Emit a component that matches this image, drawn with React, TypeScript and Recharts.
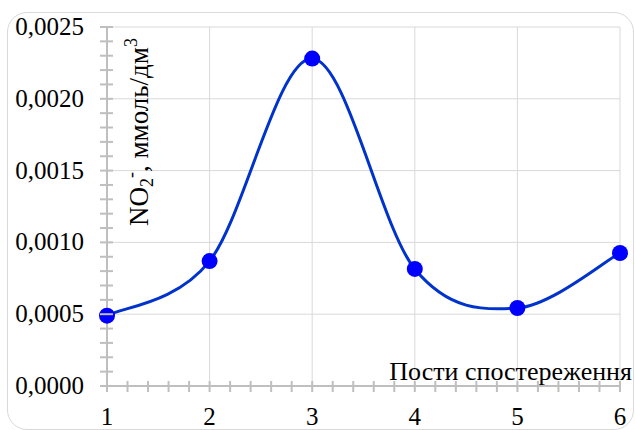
import React from 'react';
import { LineChart, Line, XAxis, YAxis, CartesianGrid } from 'recharts';

const posts = [1, 2, 3, 4, 5, 6];
const no2 = [0.00049, 0.00087, 0.00228, 0.000815, 0.000543, 0.000926];
const xTicks = [1, 1.2, 1.4, 1.6, 1.8, 2, 2.2, 2.4, 2.6, 2.8, 3, 3.2, 3.4, 3.6, 3.8, 4, 4.2, 4.4, 4.6, 4.8, 5, 5.2, 5.4, 5.6, 5.8, 6];
const yTicks = [0, 0.0001, 0.0002, 0.0003, 0.0004, 0.0005, 0.0006, 0.0007, 0.0008, 0.0009, 0.001, 0.0011, 0.0012, 0.0013, 0.0014, 0.0015, 0.0016, 0.0017, 0.0018, 0.0019, 0.002, 0.0021, 0.0022, 0.0023, 0.0024, 0.0025];
const yMajor = [0.0005, 0.001, 0.0015, 0.002, 0.0025];
const xMajor = [1, 2, 3, 4, 5, 6];

const data = posts.map((p, i) => ({ post: p, value: no2[i] }));

const FONT = '"Liberation Serif", "Times New Roman", serif';
const AXIS_X = 107;
const AXIS_Y = 386;
const AXIS_COLOR = '#bfbfbf';

function excelCurve(context: any) {
  let pts: number[][] = [];
  return {
    areaStart() {},
    areaEnd() {},
    lineStart() {
      pts = [];
    },
    point(x: number, y: number) {
      pts.push([+x, +y]);
    },
    lineEnd() {
      const n = pts.length;
      if (!n) return;
      context.moveTo(pts[0][0], pts[0][1]);
      for (let i = 0; i < n - 1; i++) {
        const p0 = pts[i - 1] || pts[i];
        const p1 = pts[i];
        const p2 = pts[i + 1];
        const p3 = pts[i + 2] || p2;
        context.bezierCurveTo(
          p1[0] + (p2[0] - p0[0]) / 6,
          p1[1] + (p2[1] - p0[1]) / 6,
          p2[0] - (p3[0] - p1[0]) / 6,
          p2[1] - (p3[1] - p1[1]) / 6,
          p2[0],
          p2[1]
        );
      }
    },
  };
}

const textStyle = { fontFamily: FONT };

const XTick = (props: any) => {
  const { x, payload } = props;
  const v = payload.value;
  const isMajor = Math.abs(v - Math.round(v)) < 1e-9;
  return (
    <g>
      <line x1={x} x2={x} y1={AXIS_Y - 5} y2={AXIS_Y + 6} stroke={AXIS_COLOR} strokeWidth={2} />
      {isMajor && (
        <text x={x} y={425} textAnchor="middle" style={textStyle} fontSize={25} fill="#000">
          {Math.round(v)}
        </text>
      )}
    </g>
  );
};

const YTick = (props: any) => {
  const { y, payload, index } = props;
  const v = payload.value;
  const isMajor = index % 5 === 0;
  return (
    <g>
      <line x1={AXIS_X - 7} x2={AXIS_X + 6} y1={y} y2={y} stroke={AXIS_COLOR} strokeWidth={2} />
      {isMajor && (
        <text x={84} y={y} dy={8} textAnchor="end" style={textStyle} fontSize={25} fill="#000">
          {v.toFixed(4).replace('.', ',')}
        </text>
      )}
    </g>
  );
};

const YLabel = () => (
  <text
    transform="translate(148, 226) rotate(-90)"
    x={0}
    y={0}
    style={textStyle}
    fontSize={27}
    fill="#000"
  >
    <tspan>NO</tspan>
    <tspan fontSize={18} dy={5}>2</tspan>
    <tspan fontSize={18} dy={-16}>-</tspan>
    <tspan dy={11}>, ммоль/дм</tspan>
    <tspan fontSize={18} dy={-11}>3</tspan>
  </text>
);

const XLabel = () => (
  <text x={632} y={380} textAnchor="end" style={textStyle} fontSize={26} fill="#000">
    Пости спостереження
  </text>
);

export default function App() {
  return (
    <div style={{ position: 'absolute', left: 0, top: 0, width: 635, height: 430, background: '#fff', overflow: 'hidden' }}>
      <div
        style={{
          position: 'absolute',
          left: 7,
          top: 12,
          width: 627,
          height: 418,
          border: '1px solid #d9d9d9',
          borderRadius: 20,
          boxSizing: 'border-box',
        }}
      />
      <div style={{ position: 'absolute', left: 0, top: 0 }}>
        <LineChart width={635} height={430} data={data} margin={{ top: 27, right: 15, bottom: 0, left: 7 }}>
          <CartesianGrid
            stroke="#d9d9d9"
            strokeWidth={1}
            horizontalValues={yMajor}
            verticalValues={xMajor}
          />
          <XAxis
            dataKey="post"
            type="number"
            domain={[1, 6]}
            ticks={xTicks}
            interval={0}
            height={44}
            tickLine={false}
            axisLine={{ stroke: AXIS_COLOR, strokeWidth: 2 }}
            tick={<XTick />}
            label={<XLabel />}
          />
          <YAxis
            type="number"
            domain={[0, 0.0025]}
            ticks={yTicks}
            interval={0}
            width={100}
            tickLine={false}
            axisLine={{ stroke: AXIS_COLOR, strokeWidth: 2 }}
            tick={<YTick />}
            label={<YLabel />}
          />
          <Line
            dataKey="value"
            type={excelCurve as any}
            stroke="#0033cc"
            strokeWidth={3}
            dot={{ r: 8, fill: '#0000ff', stroke: 'none' }}
            isAnimationActive={false}
          />
        </LineChart>
      </div>
    </div>
  );
}
